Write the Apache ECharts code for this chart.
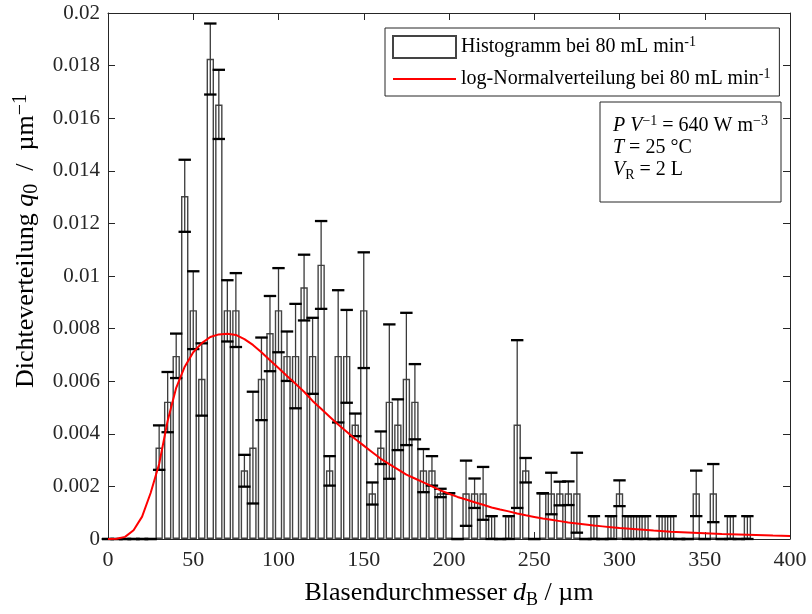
<!DOCTYPE html>
<html>
<head>
<meta charset="utf-8">
<script src="https://cdn.jsdelivr.net/npm/echarts@6/dist/echarts.min.js"></script>
<style>
  html, body { margin: 0; padding: 0; background: #fff; }
  #chart { width: 812px; height: 614px; }
</style>
</head>
<body>
<div id="chart"></div>
<script>
// Bin centres of the bubble size histogram (µm)
const binCenter = [0, 5, 10, 15, 20, 25, 30, 35, 40, 45, 50, 55, 60, 65, 70, 75, 80, 85, 90, 95,
  100, 105, 110, 115, 120, 125, 130, 135, 140, 145, 150, 155, 160, 165, 170, 175, 180, 185, 190, 195,
  200, 205, 210, 215, 220, 225, 230, 235, 240, 245, 250, 255, 260, 265, 270, 275, 280, 285, 290, 295,
  300, 305, 310, 315, 320, 325, 330, 335, 340, 345, 350, 355, 360, 365, 370, 375];

// Number density q0 per bin (1/µm)
const q0 = [0, 0, 0, 0, 0, 0, 0.00348, 0.00522, 0.00696, 0.01304, 0.00870, 0.00609, 0.01826, 0.01652, 0.00870, 0.00870, 0.00261, 0.00348, 0.00609, 0.00783,
  0.00870, 0.00696, 0.00696, 0.00957, 0.00696, 0.01043, 0.00261, 0.00696, 0.00696, 0.00435, 0.00870, 0.00174, 0.00348, 0.00522, 0.00435, 0.00609, 0.00522, 0.00261, 0.00261, 0.00174,
  0.00174, 0, 0.00174, 0.00174, 0.00174, 0.00087, 0, 0.00087, 0.00435, 0.00261, 0, 0.00174, 0.00174, 0.00174, 0.00174, 0.00174, 0, 0.00087, 0, 0.00087,
  0.00174, 0.00087, 0.00087, 0.00087, 0, 0.00087, 0.00087, 0, 0, 0.00174, 0, 0.00174, 0, 0.00087, 0, 0.00087];

// Lower end of the error bar per bin
const q0Low = [0, 0, 0, 0, 0, 0, 0.00263, 0.00406, 0.00612, 0.01168, 0.00722, 0.00469, 0.01690, 0.01521, 0.00751, 0.00730, 0.00199, 0.00135, 0.00452, 0.00638,
  0.00710, 0.00601, 0.00497, 0.00831, 0.00552, 0.00875, 0.00203, 0.00443, 0.00518, 0.00391, 0.00650, 0.00131, 0.00285, 0.00229, 0.00338, 0.00357, 0.00379, 0.00178, 0.00203, 0.00159,
  0.00174, 0, 0.00050, 0.00118, 0.00073, 0, 0, 0, 0.00118, 0.00215, 0, 0.00174, 0.00094, 0.00128, 0.00129, 0.00024, 0, 0, 0, 0,
  0.00125, 0, 0, 0, 0, 0, 0, 0, 0, 0.00087, 0, 0.00064, 0, 0, 0, 0];

// Upper end of the error bar per bin
const q0High = [0, 0, 0, 0, 0, 0, 0.00432, 0.00635, 0.00781, 0.01442, 0.01018, 0.00744, 0.01960, 0.01784, 0.00984, 0.01011, 0.00320, 0.00560, 0.00766, 0.00924,
  0.01030, 0.00789, 0.00894, 0.01081, 0.00841, 0.01209, 0.00315, 0.00946, 0.00871, 0.00477, 0.01090, 0.00215, 0.00409, 0.00816, 0.00531, 0.00860, 0.00665, 0.00342, 0.00315, 0.00191,
  0.00174, 0, 0.00298, 0.00230, 0.00274, 0.00087, 0, 0.00087, 0.00756, 0.00308, 0, 0.00174, 0.00252, 0.00218, 0.00219, 0.00328, 0, 0.00087, 0, 0.00087,
  0.00223, 0.00087, 0.00087, 0.00087, 0, 0.00087, 0.00087, 0, 0, 0.00260, 0, 0.00285, 0, 0.00087, 0, 0.00087];

// Fitted log-normal density (diameter in µm, q0 in 1/µm)
const fitD = [0, 5, 10, 15, 20, 25, 30, 35, 40, 45, 50, 55, 60, 65, 70, 75, 80, 85, 90, 95,
  100, 105, 110, 115, 120, 125, 130, 135, 140, 145, 150, 155, 160, 165, 170, 175, 180, 185, 190, 195,
  200, 205, 210, 215, 220, 225, 230, 235, 240, 245, 250, 255, 260, 265, 270, 275, 280, 285, 290, 295,
  300, 310, 320, 330, 340, 350, 360, 370, 380, 390, 400];
const fitQ0 = [0, 0.00001, 0.00008, 0.00033, 0.00085, 0.00175, 0.00285, 0.00450, 0.00575, 0.00655, 0.00710, 0.00745, 0.00768, 0.00778, 0.00780, 0.00776, 0.00760, 0.00738, 0.00710, 0.00680,
  0.00650, 0.00620, 0.00590, 0.00560, 0.00525, 0.00495, 0.00465, 0.00435, 0.00408, 0.00380, 0.00355, 0.00330, 0.00305, 0.00285, 0.00265, 0.00245, 0.00230, 0.00215, 0.00200, 0.00185,
  0.00172, 0.00160, 0.00150, 0.00140, 0.00130, 0.00120, 0.00112, 0.00105, 0.00097, 0.00090, 0.00084, 0.00078, 0.00073, 0.00068, 0.00063, 0.00059, 0.00055, 0.00051, 0.00048, 0.00045,
  0.00042, 0.00037, 0.00032, 0.00028, 0.00025, 0.00022, 0.00019, 0.00017, 0.00015, 0.00013, 0.000115];

const histName = 'Histogramm bei 80 mL min-1';
const fitName = 'log-Normalverteilung bei 80 mL min-1';

const SERIF = "'Liberation Serif', 'DejaVu Serif', serif";
const INK = '#262626';

function richSet(size, supSize, lineH) {
  return {
    n: { fontFamily: SERIF, fontSize: size, color: '#000', lineHeight: lineH },
    i: { fontFamily: SERIF, fontSize: size, fontStyle: 'italic', color: '#000', lineHeight: lineH },
    sup: { fontFamily: SERIF, fontSize: supSize, color: '#000', lineHeight: Math.round(lineH * 0.5), verticalAlign: 'top' },
    sub: { fontFamily: SERIF, fontSize: supSize, color: '#000', lineHeight: Math.round(lineH * 0.62), verticalAlign: 'bottom' }
  };
}

const chart = echarts.init(document.getElementById('chart'), null, { renderer: 'canvas' });

const axisCommon = {
  type: 'value',
  axisLine: { show: true, onZero: false, lineStyle: { color: INK, width: 1 } },
  axisTick: { show: true, inside: true, length: 7, lineStyle: { color: INK, width: 1 } },
  splitLine: { show: false }
};

const option = {
  animation: false,
  backgroundColor: '#fff',
  grid: { left: 108, right: 22, top: 13, bottom: 69, containLabel: false },
  xAxis: [
    Object.assign({}, axisCommon, {
      min: 0, max: 400, interval: 50, position: 'bottom',
      axisLabel: { fontFamily: SERIF, fontSize: 22, color: INK, margin: 10 },
      name: '{n|Blasendurchmesser }{i|d}{sub|B}{n| / µm}',
      nameLocation: 'middle', nameGap: 39,
      nameTextStyle: { rich: richSet(26, 18, 31) }
    }),
    Object.assign({}, axisCommon, {
      min: 0, max: 400, interval: 50, position: 'top',
      axisLabel: { show: false }
    })
  ],
  yAxis: [
    Object.assign({}, axisCommon, {
      min: 0, max: 0.02, interval: 0.002, position: 'left',
      axisLabel: {
        fontFamily: SERIF, fontSize: 21, color: INK, margin: 8,
        formatter: v => String(+v.toFixed(3))
      },
      name: '{n|Dichteverteilung }{i|q}{sub|0}{n|\u2002/\u2002µm}{sup|−1}',
      nameLocation: 'middle', nameGap: 65, nameRotate: 90,
      nameTextStyle: { rich: richSet(26, 20, 31), padding: [0, 0, 0, 70] }
    }),
    Object.assign({}, axisCommon, {
      min: 0, max: 0.02, interval: 0.002, position: 'right',
      axisLabel: { show: false }
    })
  ],
  legend: {
    orient: 'vertical',
    left: 385, top: 28,
    itemWidth: 63, itemHeight: 22, itemGap: 8,
    padding: [7, 9, 7, 7],
    backgroundColor: '#fff',
    borderColor: INK, borderWidth: 1, borderRadius: 0,
    textStyle: {
      fontFamily: SERIF, fontSize: 20, color: '#000',
      rich: {
        t: { fontFamily: SERIF, fontSize: 20, color: '#000', lineHeight: 24 },
        sup: { fontFamily: SERIF, fontSize: 14, color: '#000', lineHeight: 12, verticalAlign: 'top' }
      }
    },
    formatter: name => '{t|' + name.replace(/-1$/, '') + '}{sup|-1}',
    data: [
      { name: histName, icon: 'rect' },
      { name: fitName, icon: 'path://M0,0H63V2.2H0Z' }
    ]
  },
  graphic: [
    {
      type: 'rect', z: 100,
      shape: { x: 600, y: 102, width: 181, height: 100 },
      style: { fill: '#fff', stroke: INK, lineWidth: 1 }
    },
    {
      type: 'text', z: 101, x: 613, y: 126,
      style: { text: '{i|P V}{sup|−1}{n| = 640 W m}{sup|−3}', rich: richSet(20, 14, 24), verticalAlign: 'middle' }
    },
    {
      type: 'text', z: 101, x: 613, y: 148,
      style: { text: '{i|T}{n| = 25 °C}', rich: richSet(20, 14, 24), verticalAlign: 'middle' }
    },
    {
      type: 'text', z: 101, x: 613, y: 170,
      style: { text: '{i|V}{sub|R}{n| = 2 L}', rich: richSet(20, 14, 24), verticalAlign: 'middle' }
    }
  ],
  series: [
    {
      name: histName,
      type: 'bar',
      xAxisIndex: 0, yAxisIndex: 0,
      barWidth: 7.4,
      data: binCenter.map((d, k) => [d, q0[k]]),
      itemStyle: { color: '#fff', borderColor: '#444', borderWidth: 1.4 },
      emphasis: { disabled: true },
      z: 2
    },
    {
      name: 'Fehlerbalken',
      type: 'custom',
      xAxisIndex: 0, yAxisIndex: 0,
      data: binCenter.map((d, k) => [d, q0Low[k], q0High[k]]),
      encode: { x: 0, y: [1, 2] },
      renderItem: function (params, api) {
        const x = api.value(0);
        const lo = api.coord([x, api.value(1)]);
        const hi = api.coord([x, api.value(2)]);
        const half = 6.2;
        return {
          type: 'group',
          children: [
            { type: 'line', shape: { x1: lo[0], y1: lo[1], x2: hi[0], y2: hi[1] }, style: { stroke: '#3a3a3a', lineWidth: 1.3 } },
            { type: 'line', shape: { x1: lo[0] - half, y1: lo[1], x2: lo[0] + half, y2: lo[1] }, style: { stroke: '#000', lineWidth: 2.3 } },
            { type: 'line', shape: { x1: hi[0] - half, y1: hi[1], x2: hi[0] + half, y2: hi[1] }, style: { stroke: '#000', lineWidth: 2.3 } }
          ]
        };
      },
      z: 3
    },
    {
      name: fitName,
      type: 'line',
      xAxisIndex: 0, yAxisIndex: 0,
      data: fitD.map((d, k) => [d, fitQ0[k]]),
      showSymbol: false,
      symbol: 'none',
      smooth: false,
      itemStyle: { color: '#ff0000' },
      lineStyle: { color: '#ff0000', width: 2 },
      emphasis: { disabled: true },
      z: 4
    }
  ]
};

chart.setOption(option);
</script>
</body>
</html>
